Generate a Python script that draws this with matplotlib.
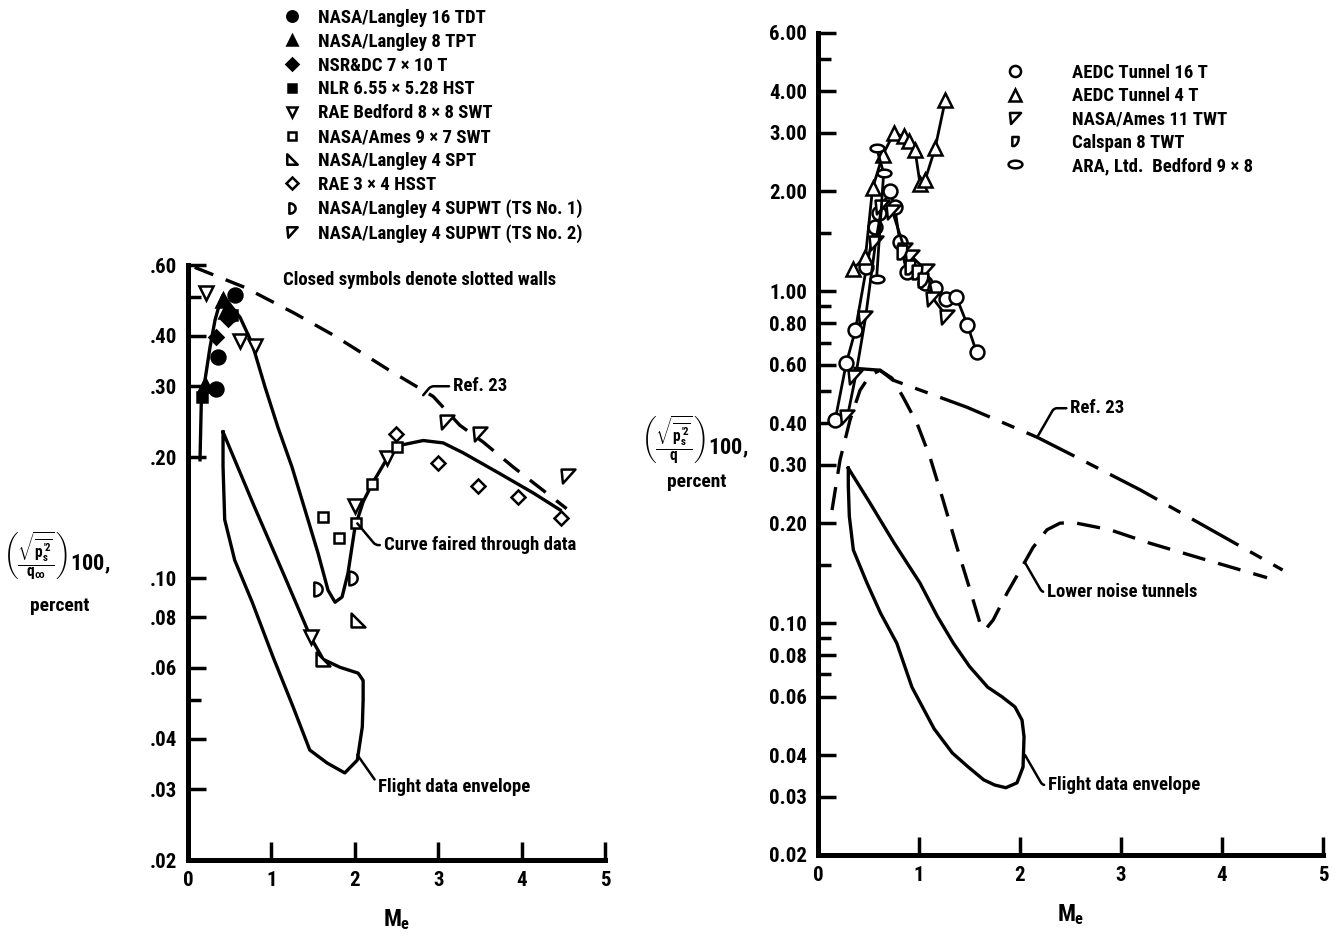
import numpy as np
import matplotlib
matplotlib.use("Agg")
import matplotlib.pyplot as plt
from matplotlib.lines import Line2D
from matplotlib.path import Path
from matplotlib.ticker import NullFormatter

FONT = ["Roboto Condensed", "DejaVu Sans"]
plt.rcParams.update({
    "font.family": FONT,
    "font.weight": "bold",
    "font.size": 13.5,
    "mathtext.fontset": "custom",
    "mathtext.rm": "Roboto Condensed:bold",
    "mathtext.it": "Roboto Condensed:bold",
    "mathtext.bf": "Roboto Condensed:bold",
    "mathtext.sf": "Roboto Condensed:bold",
    "axes.linewidth": 3.6,
})

# ---------------- left panel ----------------
L16TDT_x = [0.56, 0.36, 0.34, 0.50]
L16TDT_y = [0.505, 0.355, 0.296, 0.45]
L8TPT_x = [0.42, 0.20, 0.46]
L8TPT_y = [0.49, 0.302, 0.46]
NSRDC_x = [0.34, 0.48]
NSRDC_y = [0.397, 0.44]
NLR_x = [0.17, 0.53]
NLR_y = [0.282, 0.45]
RAEB_x = [0.22, 0.62, 0.80, 2.00, 2.39, 1.47]
RAEB_y = [0.511, 0.388, 0.377, 0.151, 0.199, 0.0715]
AMES97_x = [1.62, 1.81, 2.02, 2.21, 2.50]
AMES97_y = [0.142, 0.126, 0.137, 0.172, 0.212]
L4SPT_x = [2.04, 1.62]
L4SPT_y = [0.0788, 0.063]
RAE34_x = [2.49, 3.00, 3.48, 3.96, 4.47]
RAE34_y = [0.228, 0.193, 0.170, 0.159, 0.141]
TS1_x = [1.56, 1.98]
TS1_y = [0.094, 0.100]
TS2_x = [3.10, 3.50, 4.56]
TS2_y = [0.244, 0.228, 0.180]

fair_x = [0.144, 0.16, 0.204, 0.264, 0.324, 0.384, 0.42, 0.528, 0.624, 0.767,
          0.923, 1.079, 1.247, 1.403, 1.559, 1.679, 1.763, 1.847, 1.918, 2.002,
          2.10, 2.21, 2.39, 2.54, 2.82, 3.06, 3.30, 3.74, 4.14, 4.46]
fair_y = [0.197, 0.277, 0.311, 0.375, 0.438, 0.485, 0.505, 0.471, 0.445,
          0.384, 0.299, 0.237, 0.189, 0.148, 0.1156, 0.0935, 0.0873, 0.0899,
          0.103, 0.134, 0.155, 0.172, 0.199, 0.214, 0.220, 0.217, 0.205,
          0.182, 0.163, 0.148]
ref23L_x = [0.08, 0.68, 1.28, 1.76, 2.40, 2.94, 3.26, 3.54, 3.90, 4.54]
ref23L_y = [0.592, 0.528, 0.455, 0.40, 0.33, 0.283, 0.24, 0.218, 0.189, 0.149]
envL_x = [0.42, 0.80, 1.16, 1.47, 1.62, 1.82, 2.04, 2.10, 2.10, 2.09, 2.03,
          1.88, 1.67, 1.46, 1.26, 1.02, 0.77, 0.56, 0.44, 0.42, 0.42]
envL_y = [0.231, 0.150, 0.101, 0.0715, 0.063, 0.0602, 0.0582, 0.0558, 0.050,
          0.0428, 0.0354, 0.0329, 0.0348, 0.0375, 0.048, 0.0638, 0.0873,
          0.111, 0.140, 0.19, 0.231]

# ---------------- right panel ----------------
AEDC16_x = [0.17, 0.28, 0.37, 0.48, 0.56, 0.60, 0.71, 0.76, 0.81, 0.88, 1.06,
            1.16, 1.27, 1.37, 1.48, 1.57]
AEDC16_y = [0.409, 0.607, 0.763, 1.18, 1.56, 1.72, 2.01, 1.79, 1.41, 1.14,
            1.06, 1.02, 0.946, 0.96, 0.79, 0.655]
AEDC4_x = [0.35, 0.47, 0.54, 0.64, 0.75, 0.85, 0.90, 0.96, 1.01, 1.06, 1.16,
           1.26]
AEDC4_y = [1.17, 1.27, 2.04, 2.57, 2.99, 2.93, 2.83, 2.67, 2.11, 2.16, 2.70,
           3.76]
AMES11_x = [0.29, 0.37, 0.47, 0.57, 0.63, 0.74, 0.86, 0.93, 1.08, 1.14, 1.28]
AMES11_y = [0.417, 0.55, 0.83, 1.40, 1.79, 1.73, 1.33, 1.27, 1.15, 0.95,
            0.835]
CALSPAN_x = [0.83, 0.91, 0.98, 1.04]
CALSPAN_y = [1.31, 1.18, 1.14, 1.08]
ARA_x = [0.58, 0.65, 0.58]
ARA_y = [1.09, 2.27, 2.70]

ref23R_x = [0.35, 0.614, 0.74, 1.475, 2.17, 2.56, 3.19, 4.60]
ref23R_y = [0.586, 0.578, 0.54, 0.447, 0.363, 0.316, 0.252, 0.1445]
lown_x = [0.139, 0.218, 0.317, 0.416, 0.515, 0.614, 0.733, 0.842, 0.980,
          1.109, 1.238, 1.376, 1.505, 1.604, 1.653, 1.733, 1.871, 2.00, 2.129,
          2.267, 2.396, 2.525, 2.891, 3.287, 3.782, 4.446]
lown_y = [0.219, 0.310, 0.409, 0.503, 0.558, 0.578, 0.547, 0.480, 0.400,
          0.316, 0.235, 0.169, 0.126, 0.100, 0.0953, 0.102, 0.123, 0.144,
          0.169, 0.191, 0.200, 0.201, 0.191, 0.174, 0.157, 0.137]
envR_x = [0.30, 0.515, 0.75, 1.01, 1.18, 1.34, 1.50, 1.68, 1.82, 1.95, 2.02,
          2.04, 2.03, 1.97, 1.86, 1.75, 1.64, 1.48, 1.33, 1.15, 0.93, 0.78,
          0.62, 0.485, 0.35, 0.31, 0.30, 0.30]
envR_y = [0.293, 0.23, 0.175, 0.132, 0.105, 0.087, 0.074, 0.0641, 0.060,
          0.0559, 0.051, 0.0454, 0.0368, 0.033, 0.0319, 0.0325, 0.0337, 0.037,
          0.0406, 0.048, 0.0641, 0.087, 0.107, 0.132, 0.166, 0.21, 0.26, 0.293]

L_ticks = [0.02, 0.03, 0.04, 0.06, 0.08, 0.10, 0.20, 0.30, 0.40, 0.60]
L_labels = [".02", ".03", ".04", ".06", ".08", ".10", ".20", ".30", ".40",
            ".60"]
L_minor = [0.05, 0.50]
R_ticks = [0.02, 0.03, 0.04, 0.06, 0.08, 0.10, 0.20, 0.30, 0.40, 0.60, 0.80,
           1.00, 2.00, 3.00, 4.00, 6.00]
R_labels = ["0.02", "0.03", "0.04", "0.06", "0.08", "0.10", "0.20", "0.30",
            "0.40", "0.60", "0.80", "1.00", "2.00", "3.00", "4.00", "6.00"]
R_minor = [0.07, 0.09, 0.15, 0.50, 0.70, 0.90, 1.5, 5.0]


def shape(verts):
    verts = list(verts)
    return Path(verts + [verts[0]], closed=True)


# custom symbol outlines (unit size, centred on the point)
t = np.linspace(np.pi / 2, -np.pi / 2, 15)
D_HALF = shape([(-0.6, 1.0)] + [(-0.6 + 1.2 * np.cos(a), np.sin(a)) for a in t])
RTRI = shape([(-1, -1), (1, -1), (-1, 1)])
FLAG = shape([(-1, 1), (1, 1), (-0.8, -1)])
SHIELD = shape([(-0.7, 1), (0.7, 1), (0.65, 0.2), (0.35, -0.5), (-0.2, -1),
                (-0.7, -1)])
te = np.linspace(0, 2 * np.pi, 30)[:-1]
ELL = shape([(np.cos(a), 0.55 * np.sin(a)) for a in te])

K = "black"
LW = 2.4
MEW = 1.8
MS = 10

fig = plt.figure(figsize=(13.4, 9.36), dpi=100)
axL = fig.add_axes([188 / 1340, 1 - 860 / 936, 417 / 1340, 595 / 936])
axR = fig.add_axes([818 / 1340, 1 - 855 / 936, 505 / 1340, 822 / 936])


def style_axis(ax, ticks, labels, minor, ytop):
    ax.set_yscale("log")
    ax.set_xlim(0, 5)
    ax.set_ylim(0.02, ytop)
    ax.spines["top"].set_visible(False)
    ax.spines["right"].set_visible(False)
    ax.set_yticks(ticks, labels)
    ax.set_yticks(minor, minor=True)
    ax.yaxis.set_minor_formatter(NullFormatter())
    ax.set_xticks([0, 1, 2, 3, 4, 5], ["0", "1", "2", "3", "4", "5"])
    ax.tick_params(axis="both", which="major", direction="in", length=13,
                   width=2.5, labelsize=15, pad=8)
    ax.tick_params(axis="y", which="minor", direction="in", length=9,
                   width=2.5)
    ax.patch.set_alpha(0)


style_axis(axL, L_ticks, L_labels, L_minor, 0.60)
style_axis(axR, R_ticks, R_labels, R_minor, 6.0)

# left curves
axL.plot(fair_x, fair_y, color=K, lw=LW, zorder=2, solid_joinstyle="round")
axL.plot(ref23L_x, ref23L_y, color=K, lw=LW, dashes=(6, 4), zorder=2)
axL.plot(envL_x, envL_y, color=K, lw=LW, zorder=2, solid_joinstyle="round")

left_series = [
    (L16TDT_x, L16TDT_y, "o", True, "NASA/Langley 16 TDT"),
    (L8TPT_x, L8TPT_y, "^", True, "NASA/Langley 8 TPT"),
    (NSRDC_x, NSRDC_y, "D", True, "NSR&DC 7 \u00d7 10 T"),
    (NLR_x, NLR_y, "s", True, "NLR 6.55 \u00d7 5.28 HST"),
    (RAEB_x, RAEB_y, "v", False, "RAE Bedford 8 \u00d7 8 SWT"),
    (AMES97_x, AMES97_y, "s", False, "NASA/Ames 9 \u00d7 7 SWT"),
    (L4SPT_x, L4SPT_y, RTRI, False, "NASA/Langley 4 SPT"),
    (RAE34_x, RAE34_y, "D", False, "RAE 3 \u00d7 4 HSST"),
    (TS1_x, TS1_y, D_HALF, False, "NASA/Langley 4 SUPWT (TS No. 1)"),
    (TS2_x, TS2_y, FLAG, False, "NASA/Langley 4 SUPWT (TS No. 2)"),
]
hL = []
for x, y, m, filled, lab in left_series:
    small = isinstance(m, str) and m in "Ds"
    ms = 7.5 if small else MS
    fc = K if filled else "white"
    axL.plot(x, y, ls="none", marker=m, ms=ms, mfc=fc, mec=K, mew=MEW,
             zorder=3)
    hL.append(Line2D([], [], ls="none", marker=m, ms=6 if small else 7.5,
                     mfc=fc, mec=K, mew=MEW, label=lab))

fig.legend(handles=hL, loc="upper left",
           bbox_to_anchor=(283 / 1340, 1 - 9 / 936),
           frameon=False, borderpad=0, borderaxespad=0, handlelength=1.0,
           handletextpad=0.87, labelspacing=0.31, fontsize=13.5)
fig.text(283 / 1340, 1 - 280 / 936, "Closed symbols denote slotted walls",
         fontsize=13.5, ha="left", va="center")

leader = dict(arrowstyle="-", lw=1.8, color=K, shrinkA=1, shrinkB=0)
axL.annotate("Ref. 23", xy=(2.82, 0.285), xytext=(3.18, 0.30),
             ha="left", va="center",
             arrowprops=dict(leader, connectionstyle="angle,angleA=0,angleB=50,rad=3"))
axL.annotate("Curve faired through data", xy=(2.03, 0.137), xytext=(2.35, 0.121),
             ha="left", va="center",
             arrowprops=dict(leader, connectionstyle="angle,angleA=0,angleB=-50,rad=3"))
axL.annotate("Flight data envelope", xy=(2.03, 0.0365), xytext=(2.28, 0.0304),
             ha="left", va="center",
             arrowprops=dict(leader, connectionstyle="angle,angleA=0,angleB=-55,rad=3"))

# right curves
axR.plot(ref23R_x, ref23R_y, color=K, lw=LW, dashes=(16, 4, 4, 4), zorder=2)
axR.plot(lown_x, lown_y, color=K, lw=LW, dashes=(7, 4), zorder=2)
axR.plot(envR_x, envR_y, color=K, lw=LW, zorder=2, solid_joinstyle="round")

right_series = [
    (AEDC16_x, AEDC16_y, "o", True, "AEDC Tunnel 16 T"),
    (AEDC4_x, AEDC4_y, "^", True, "AEDC Tunnel 4 T"),
    (AMES11_x, AMES11_y, FLAG, True, "NASA/Ames 11 TWT"),
    (CALSPAN_x, CALSPAN_y, SHIELD, False, "Calspan 8 TWT"),
    (ARA_x, ARA_y, ELL, True, "ARA, Ltd.  Bedford 9 \u00d7 8"),
]
hR = []
for x, y, m, joined, lab in right_series:
    axR.plot(x, y, ls="-" if joined else "none", lw=2.0, color=K, marker=m,
             ms=MS, mfc="white", mec=K, mew=MEW, zorder=3)
    hR.append(Line2D([], [], ls="none", marker=m,
                     ms=6.5 if m is SHIELD else (10 if m is ELL else 8),
                     mfc="white", mec=K, mew=MEW, label=lab))

fig.legend(handles=hR, loc="upper left",
           bbox_to_anchor=(1005.6 / 1340, 1 - 64 / 936),
           frameon=False, borderpad=0, borderaxespad=0, handlelength=1.0,
           handletextpad=2.54, labelspacing=0.28, fontsize=13.5)

axR.annotate("Ref. 23", xy=(2.17, 0.363), xytext=(2.5, 0.444),
             ha="left", va="center",
             arrowprops=dict(leader, connectionstyle="angle,angleA=0,angleB=60,rad=3"))
axR.annotate("Lower noise tunnels", xy=(2.05, 0.152), xytext=(2.27, 0.124),
             ha="left", va="center",
             arrowprops=dict(leader, connectionstyle="angle,angleA=0,angleB=-60,rad=3"))
axR.annotate("Flight data envelope", xy=(2.05, 0.040), xytext=(2.28, 0.0325),
             ha="left", va="center",
             arrowprops=dict(leader, connectionstyle="angle,angleA=0,angleB=-60,rad=3"))

# axis labels
for ax in (axL, axR):
    ax.set_xlabel(r"$M_e$", fontsize=17, labelpad=12)

fig.text(57 / 1340, 1 - 556 / 936,
         r"$\left(\frac{\sqrt{\overline{p_s^{\prime 2}}}}{q_\infty}\right)$100,",
         fontsize=16, ha="center", va="center")
fig.text(60 / 1340, 1 - 606 / 936, "percent", fontsize=14, ha="center",
         va="center")
fig.text(695 / 1340, 1 - 440 / 936,
         r"$\left(\frac{\sqrt{\overline{p_s^{\prime 2}}}}{q}\right)$100,",
         fontsize=16, ha="center", va="center")
fig.text(697 / 1340, 1 - 482 / 936, "percent", fontsize=14, ha="center",
         va="center")

fig.savefig("out.png", dpi=100, facecolor="white")
